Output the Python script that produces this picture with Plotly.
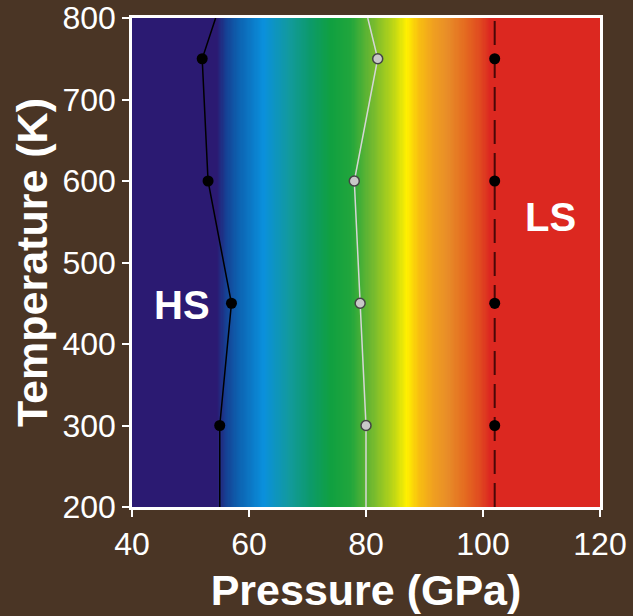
import numpy as np
import plotly.graph_objects as go

# Spin-state transition data: pressure (GPa) vs temperature (K)
temps = [750, 600, 450, 300]
hs_onset_p = [52, 53, 57, 55]          # black points, onset of HS->LS crossover
mid_p = [82, 78, 79, 80]               # grey points, midpoint of crossover
ls_complete_p = [102, 102, 102, 102]   # black points on the dashed boundary

# Boundary lines (extended to the frame edges)
hs_line_p = [54.3, 52, 53, 57, 55, 55]
hs_line_t = [800, 750, 600, 450, 300, 200]
mid_line_p = [80.3, 82, 78, 79, 80, 80]
mid_line_t = [800, 750, 600, 450, 300, 200]
ls_line_p = [102, 102]
ls_line_t = [200, 800]

# Colour gradient across pressure (HS fraction shading)
grad_p = [40, 54.5, 56, 58, 62.5, 67, 70.5, 74, 77.5, 81, 84.5, 87, 89, 91.5,
          94, 97, 99.5, 101.2, 120]
grad_colors = ['#2b1a72', '#2b1a72', '#163f92', '#0d5fae', '#0a90dc', '#129a9c',
               '#0c9a6a', '#10a040', '#22a63c', '#70b830', '#b8d418', '#fff000',
               '#f8c010', '#f0a020', '#e88c28', '#e46a20', '#e04a20', '#dc2820',
               '#dc2820']

x_ticks = [40, 60, 80, 100, 120]
y_ticks = [200, 300, 400, 500, 600, 700, 800]

p_min, p_max = 40, 120
colorscale = [[(p - p_min) / (p_max - p_min), c] for p, c in zip(grad_p, grad_colors)]
p_grid = np.linspace(p_min, p_max, 401)

FONT = "Arial, Liberation Sans, sans-serif"

fig = go.Figure()

fig.add_trace(go.Heatmap(
    x=p_grid, y=[200, 800], z=[p_grid, p_grid],
    colorscale=colorscale, zmin=p_min, zmax=p_max,
    showscale=False, hoverinfo="skip", zsmooth=False,
))

fig.add_trace(go.Scatter(
    x=hs_line_p, y=hs_line_t, mode="lines",
    line=dict(color="#000000", width=1.5), hoverinfo="skip",
))
fig.add_trace(go.Scatter(
    x=mid_line_p, y=mid_line_t, mode="lines",
    line=dict(color="#d6d6d6", width=1.5), hoverinfo="skip",
))
fig.add_trace(go.Scatter(
    x=ls_line_p, y=ls_line_t, mode="lines",
    line=dict(color="#4a0808", width=2, dash="24px,9px"), hoverinfo="skip",
))

fig.add_trace(go.Scatter(
    x=hs_onset_p, y=temps, mode="markers",
    marker=dict(color="#000000", size=11),
))
fig.add_trace(go.Scatter(
    x=mid_p, y=temps, mode="markers",
    marker=dict(color="#c8c8c8", size=10, line=dict(color="#444444", width=1.5)),
))
fig.add_trace(go.Scatter(
    x=ls_complete_p, y=temps, mode="markers",
    marker=dict(color="#000000", size=11),
))

fig.add_annotation(x=48.6, y=448, text="<b>HS</b>", showarrow=False,
                   font=dict(family=FONT, size=40, color="white"))
fig.add_annotation(x=111.5, y=556, text="<b>LS</b>", showarrow=False,
                   font=dict(family=FONT, size=40, color="white"))

axis_common = dict(
    showline=True, linecolor="white", linewidth=2.5, mirror=True,
    ticks="outside", tickcolor="white", ticklen=7, tickwidth=2,
    showgrid=False, zeroline=False, automargin=False,
    tickfont=dict(family=FONT, size=32, color="white"),
)

fig.update_layout(
    width=633, height=616,
    margin=dict(l=132, r=33, t=18, b=109),
    paper_bgcolor="#4a3525",
    plot_bgcolor="#4a3525",
    showlegend=False,
    xaxis=dict(
        range=[p_min, p_max], tickvals=x_ticks,
        title=dict(text="<b>Pressure (GPa)</b>", standoff=14,
                   font=dict(family=FONT, size=43, color="white")),
        **axis_common,
    ),
    yaxis=dict(
        range=[200, 800], tickvals=y_ticks,
        title=dict(text="<b>Temperature (K)</b>", standoff=2,
                   font=dict(family=FONT, size=43, color="white")),
        **axis_common,
    ),
)

fig.write_html("out.html")
